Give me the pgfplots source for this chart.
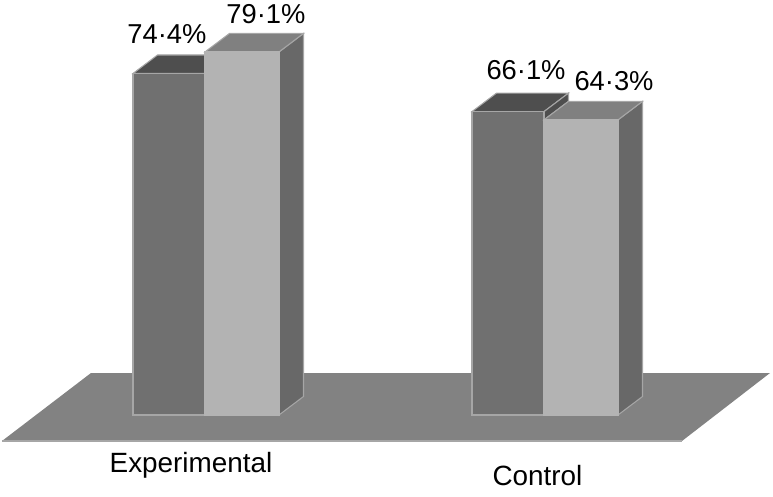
\documentclass[border=0pt]{standalone}
\usepackage{fontspec}
\setmainfont{Liberation Sans}
\usepackage{pgfplots}
\pgfplotsset{compat=1.18}
\definecolor{floorc}{HTML}{828282}
\definecolor{edgec}{HTML}{A6A6A6}
\definecolor{darkfront}{HTML}{707070}
\definecolor{darktop}{HTML}{4E4E4E}
\definecolor{lightfront}{HTML}{B3B3B3}
\definecolor{lighttop}{HTML}{808080}
\definecolor{sidec}{HTML}{686868}
\begin{document}
\begin{tikzpicture}
\useasboundingbox (0,0) rectangle (579.75pt,372pt);
\begin{axis}[
  at={(0,0)}, anchor=south west,
  width=579.75pt, height=372pt, scale only axis,
  hide axis, clip=false,
  xmin=0, xmax=773, ymin=-17.647, ymax=90.414,
]
% floor
\addplot[fill=floorc, draw=none] coordinates {(2,-5.66) (91,9.15) (770,9.15) (682,-5.66)} -- cycle;
\addplot[draw=edgec, line width=1pt] coordinates {(2,-5.66) (682,-5.66)};
% Experimental, first series: 74.4
\addplot[fill=darktop, draw=edgec, line width=0.8pt] coordinates {(133,74.4) (157.5,78.43) (205,78.43) (205,74.4)} -- cycle;
\addplot[fill=darkfront, draw=edgec, line width=1pt] coordinates {(133,0) (205,0) (205,74.4) (133,74.4)} -- cycle;
% Experimental, second series: 79.1
\addplot[fill=sidec, draw=edgec, line width=0.8pt] coordinates {(279,0) (303.5,4.03) (303.5,83.13) (279,79.1)} -- cycle;
\addplot[fill=lighttop, draw=edgec, line width=0.8pt] coordinates {(205,79.1) (229.5,83.13) (303.5,83.13) (279,79.1)} -- cycle;
\addplot[fill=lightfront, draw=lightfront, line width=1pt] coordinates {(205,0) (279,0) (279,79.1) (205,79.1)} -- cycle;
% Control, first series: 66.1
\addplot[fill=darktop, draw=edgec, line width=0.8pt] coordinates {(472,66.1) (496.5,70.13) (568.5,70.13) (544,66.1)} -- cycle;
\addplot[fill=darktop, draw=edgec, line width=0.8pt] coordinates {(544,66.1) (568.5,70.13) (568.5,68.33) (544,64.3)} -- cycle;
\addplot[fill=darkfront, draw=edgec, line width=1pt] coordinates {(472,0) (544,0) (544,66.1) (472,66.1)} -- cycle;
% Control, second series: 64.3
\addplot[fill=sidec, draw=edgec, line width=0.8pt] coordinates {(618,0) (642.5,4.03) (642.5,68.33) (618,64.3)} -- cycle;
\addplot[fill=lighttop, draw=edgec, line width=0.8pt] coordinates {(544,64.3) (568.5,68.33) (642.5,68.33) (618,64.3)} -- cycle;
\addplot[fill=lightfront, draw=lightfront, line width=1pt] coordinates {(544,0) (618,0) (618,64.3) (544,64.3)} -- cycle;
% labels
\def\lab#1#2#3#4{\node[anchor=base, inner sep=0pt, font=\fontsize{#4}{24}\selectfont, text=black] at (axis cs:#1,#2) {#3};}
\lab{167}{80.96}{74·4\%}{20.5}
\lab{266}{85.19}{79·1\%}{20.5}
\lab{526}{73.2}{66·1\%}{20.5}
\lab{614}{70.59}{64·3\%}{20.5}
\lab{191}{-12.55}{Experimental}{20.9}
\lab{537.5}{-15.25}{Control}{20.9}
\end{axis}
\end{tikzpicture}
\end{document}
